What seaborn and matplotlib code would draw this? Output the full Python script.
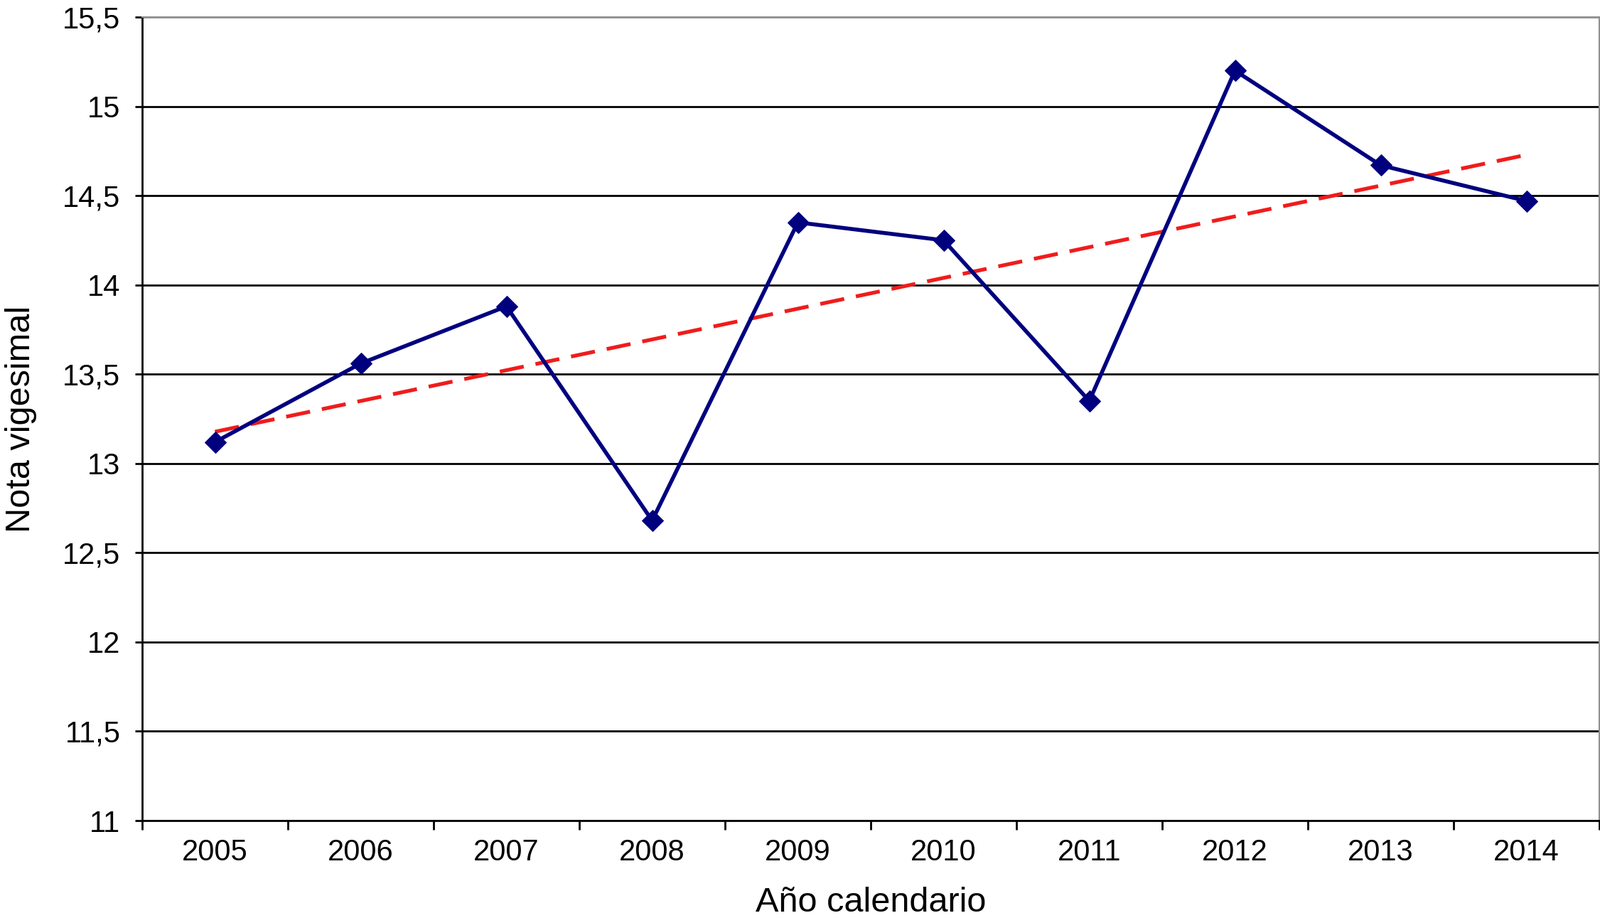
import numpy as np
import pandas as pd
import matplotlib
matplotlib.use("Agg")
import matplotlib.pyplot as plt
import seaborn as sns

# datos
years = ["2005", "2006", "2007", "2008", "2009", "2010", "2011", "2012", "2013", "2014"]
notas = [13.12, 13.56, 13.88, 12.68, 14.35, 14.25, 13.35, 15.20, 14.67, 14.47]
y_ticks = [11, 11.5, 12, 12.5, 13, 13.5, 14, 14.5, 15, 15.5]

df = pd.DataFrame({"pos": np.arange(len(years)), "nota": notas})

sns.set_style("white", {"text.color": "black", "xtick.color": "black", "ytick.color": "black",
                        "axes.labelcolor": "black"})
plt.rcParams["font.family"] = ["Liberation Sans", "DejaVu Sans"]

fig = plt.figure(figsize=(22.51, 12.91), dpi=100)
ax = fig.add_axes([200 / 2251, 1 - 1154 / 1291, 2050 / 2251, 1130 / 1291])

# línea de tendencia (regresión lineal)
sns.regplot(data=df, x="pos", y="nota", scatter=False, ci=None, truncate=True, ax=ax,
            line_kws=dict(color="#f01c1c", linewidth=3.8, dashes=(6.5, 3.2), zorder=3))

# serie principal
sns.lineplot(data=df, x="pos", y="nota", ax=ax, color="#00007f", linewidth=4,
             marker="D", markersize=15, markeredgecolor="#00007f", zorder=4)

ax.set_xlim(-0.5, len(years) - 0.5)
ax.set_ylim(11, 15.5)

# eje de categorías: marcas entre categorías, etiquetas centradas
ax.set_xticks(np.arange(-0.5, len(years), 1.0))
ax.set_xticklabels([])
ax.set_xticks(np.arange(len(years)), minor=True)
ax.set_xticklabels(years, minor=True, fontsize=30)
ax.tick_params(axis="x", which="major", direction="out", length=9, width=2, color="black", bottom=True)
ax.tick_params(axis="x", which="minor", length=0, pad=18)

ax.set_yticks(y_ticks)
ax.set_yticklabels([f"{v:g}".replace(".", ",") for v in y_ticks], fontsize=30)
ax.tick_params(axis="y", direction="out", length=7, width=2, color="black", left=True, pad=15)

ax.yaxis.grid(True, color="black", lw=2)
ax.get_ygridlines()[-1].set_color("#909090")
ax.set_axisbelow(True)

for side in ["left", "bottom"]:
    ax.spines[side].set_color("black")
    ax.spines[side].set_linewidth(2)
for side in ["top", "right"]:
    ax.spines[side].set_color("#909090")
    ax.spines[side].set_linewidth(1.5)

ax.set_xlabel("Año calendario", fontsize=35, color="black")
ax.set_ylabel("Nota vigesimal", fontsize=35, color="black")
ax.xaxis.set_label_coords(0.5, -0.082)
ax.yaxis.set_label_coords(-0.072, 0.5)

fig.savefig("out.png", dpi=100)
